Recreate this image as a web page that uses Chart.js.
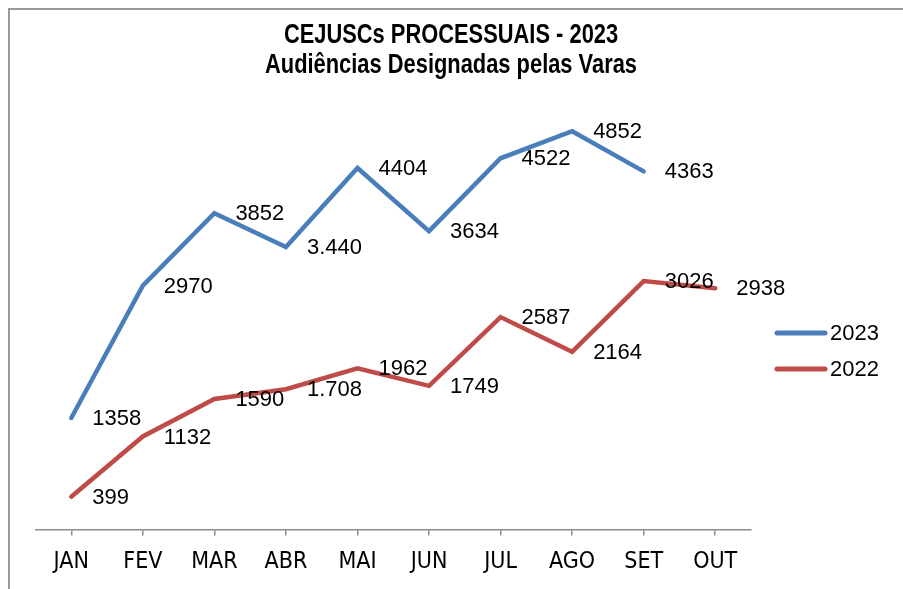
<!DOCTYPE html>
<html>
<head>
<meta charset="utf-8">
<script src="https://cdn.jsdelivr.net/npm/chart.js@4"></script>
<style>
  html, body { margin: 0; padding: 0; background: #fff; }
  #caixa { width: 903px; height: 589px; position: relative; }
</style>
</head>
<body>
<div id="caixa"><canvas id="grafico"></canvas></div>
<script>
// dados
const meses = ['JAN', 'FEV', 'MAR', 'ABR', 'MAI', 'JUN', 'JUL', 'AGO', 'SET', 'OUT'];
const valores2023 = [1358, 2970, 3852, 3440, 4404, 3634, 4522, 4852, 4363];
const valores2022 = [399, 1132, 1590, 1708, 1962, 1749, 2587, 2164, 3026, 2938];
const rotulos2023 = ['1358', '2970', '3852', '3.440', '4404', '3634', '4522', '4852', '4363'];
const rotulos2022 = ['399', '1132', '1590', '1.708', '1962', '1749', '2587', '2164', '3026', '2938'];
const titulo = ['CEJUSCs PROCESSUAIS - 2023', 'Audiências Designadas pelas Varas'];

const fonteEstreita = '"Liberation Sans Narrow", "Arial Narrow", "DejaVu Sans Condensed", sans-serif';
const fonteNormal = '"Liberation Sans", Arial, sans-serif';

// moldura, título, rótulos e legenda desenhados à mão
const extras = {
  id: 'extras',
  beforeDraw(chart) {
    const ctx = chart.ctx;
    ctx.save();
    ctx.strokeStyle = '#9a9a9a';
    ctx.lineWidth = 2;
    ctx.beginPath();
    ctx.moveTo(9, 589);
    ctx.lineTo(9, 9);
    ctx.lineTo(903, 9);
    ctx.stroke();
    ctx.restore();
  },
  afterDatasetsDraw(chart) {
    const ctx = chart.ctx;
    ctx.save();
    ctx.fillStyle = '#000';
    ctx.textAlign = 'center';
    ctx.textBaseline = 'alphabetic';
    ctx.font = 'bold 27px ' + fonteNormal;
    // título em estilo "narrow": escala horizontal
    ctx.save();
    ctx.translate(451, 0);
    ctx.scale(0.81, 1);
    ctx.fillText(titulo[0], 0, 43);
    ctx.fillText(titulo[1], 0, 73);
    ctx.restore();

    // rótulos de dados à direita dos pontos
    ctx.font = '22px ' + fonteNormal;
    ctx.textAlign = 'left';
    ctx.textBaseline = 'middle';
    const rotulos = [rotulos2023, rotulos2022];
    chart.data.datasets.forEach((ds, i) => {
      chart.getDatasetMeta(i).data.forEach((p, j) => {
        ctx.fillText(rotulos[i][j], p.x + 21, p.y + 1);
      });
    });

    // legenda
    const ys = [333, 369];
    chart.data.datasets.forEach((ds, i) => {
      ctx.strokeStyle = ds.borderColor;
      ctx.lineWidth = 5;
      ctx.lineCap = 'round';
      ctx.beginPath();
      ctx.moveTo(777, ys[i]);
      ctx.lineTo(825, ys[i]);
      ctx.stroke();
      ctx.fillStyle = '#000';
      ctx.font = '22px ' + fonteNormal;
      ctx.fillText(ds.label, 830, ys[i] + 1);
    });
    ctx.restore();
  }
};

new Chart(document.getElementById('grafico'), {
  type: 'line',
  data: {
    labels: meses,
    datasets: [
      {
        label: '2023',
        data: valores2023,
        borderColor: '#4a7ebb',
        borderWidth: 4.5,
        borderCapStyle: 'round',
        pointRadius: 0,
        tension: 0
      },
      {
        label: '2022',
        data: valores2022,
        borderColor: '#be4b48',
        borderWidth: 4.5,
        borderCapStyle: 'round',
        pointRadius: 0,
        tension: 0
      }
    ]
  },
  options: {
    responsive: true,
    maintainAspectRatio: false,
    animation: false,
    layout: { padding: { left: 35.5, right: 152, top: 37, bottom: 0 } },
    plugins: {
      legend: { display: false },
      title: { display: false },
      tooltip: { enabled: false }
    },
    scales: {
      x: {
        offset: true,
        grid: { drawOnChartArea: false, drawTicks: true, tickLength: 6, color: '#8c8c8c', lineWidth: 1.5 },
        border: { color: '#8c8c8c', width: 1.5 },
        ticks: { color: '#000', padding: 13, font: { family: fonteEstreita, size: 23 } }
      },
      y: { display: false, min: 0, max: 6000 }
    }
  },
  plugins: [extras]
});
</script>
</body>
</html>
